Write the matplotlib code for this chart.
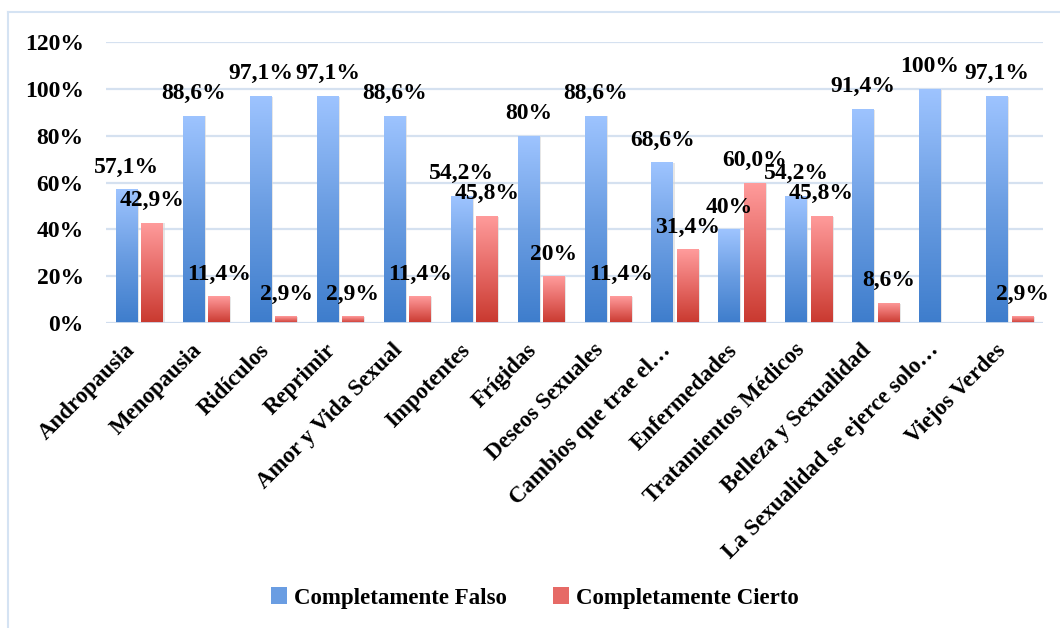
import matplotlib
matplotlib.use("Agg")
import matplotlib.pyplot as plt
import numpy as np
from matplotlib.colors import LinearSegmentedColormap
from matplotlib.patches import Patch
from matplotlib.lines import Line2D
from matplotlib.transforms import ScaledTranslation

categories = ["Andropausia", "Menopausia", "Ridículos", "Reprimir", "Amor y Vida Sexual",
              "Impotentes", "Frígidas", "Deseos Sexuales", "Cambios que trae el…",
              "Enfermedades", "Tratamientos Médicos", "Belleza y Sexualidad",
              "La Sexualidad se ejerce solo…", "Viejos Verdes"]
falso = [57.1, 88.6, 97.1, 97.1, 88.6, 54.2, 80, 88.6, 68.6, 40, 54.2, 91.4, 100, 97.1]
cierto = [42.9, 11.4, 2.9, 2.9, 11.4, 45.8, 20, 11.4, 31.4, 60.0, 45.8, 8.6, 0, 2.9]
falso_labels = ["57,1%", "88,6%", "97,1%", "97,1%", "88,6%", "54,2%", "80%", "88,6%",
                "68,6%", "40%", "54,2%", "91,4%", "100%", "97,1%"]
cierto_labels = ["42,9%", "11,4%", "2,9%", "2,9%", "11,4%", "45,8%", "20%", "11,4%",
                 "31,4%", "60,0%", "45,8%", "8,6%", "", "2,9%"]
yticks = [0, 20, 40, 60, 80, 100, 120]
ytick_labels = ["0%", "20%", "40%", "60%", "80%", "100%", "120%"]
series_names = ["Completamente Falso", "Completamente Cierto"]

plt.rcParams['font.family'] = ['Liberation Serif', 'DejaVu Serif']
plt.rcParams['font.weight'] = 'bold'

fig = plt.figure(figsize=(10.6, 6.28), dpi=100)
W, H = 1060, 628
ax = fig.add_axes([106 / W, 1 - 323 / H, (1043 - 106) / W, (323 - 42) / H])

x = np.arange(len(categories))
bw = 0.32
off = 0.19
blue_cmap = LinearSegmentedColormap.from_list("b", ["#3E7DCC", "#6A9DE2", "#9EC4FF"])
red_cmap = LinearSegmentedColormap.from_list("r", ["#C9392F", "#E66A66", "#FF9C9C"])

grad = np.linspace(0, 1, 256).reshape(-1, 1)

def draw_bars(xs, vals, cmap, labels):
    bars = ax.bar(xs, vals, width=bw, color='none', edgecolor='none', zorder=3)
    for b, lab in zip(bars, labels):
        x0, y0 = b.get_x(), b.get_y()
        w, h = b.get_width(), b.get_height()
        if h <= 0:
            continue
        # subtle shadow
        ax.bar(x0 + w / 2 + 0.025, h, width=w, bottom=-0.4, color='#d6d6d6', alpha=0.6,
               edgecolor='none', zorder=2)
        im = ax.imshow(grad, extent=[x0, x0 + w, y0, y0 + h], origin='lower',
                       cmap=cmap, aspect='auto', zorder=3.5, interpolation='bilinear')
        im.set_clip_path(b)
        ax.annotate(lab, (x0 + w / 2, y0 + h), xytext=(0, 12), textcoords='offset points',
                    ha='center', va='baseline', fontsize=17, fontweight='bold', zorder=6)
    return bars

draw_bars(x - off, falso, blue_cmap, falso_labels)
draw_bars(x + off, cierto, red_cmap, cierto_labels)

ax.set_xlim(-0.5, len(categories) - 0.5)
ax.set_ylim(0, 120)
ax.set_yticks(yticks)
ax.set_yticklabels(ytick_labels, fontsize=17, fontweight='bold')
ax.set_xticks(x)
ax.set_xticklabels(categories, rotation=45, ha='right', va='top', fontsize=16.5,
                   fontweight='bold')
shift = ScaledTranslation(5 / 100, 0, fig.dpi_scale_trans)
for t in ax.get_xticklabels():
    t.set_transform(t.get_transform() + shift)
ax.tick_params(axis='y', length=0, pad=16)
ax.tick_params(axis='x', length=0, pad=12)
ax.yaxis.grid(True, color='#D5E1F0', linewidth=1.6, zorder=0)
ax.set_axisbelow(True)
for s in ax.spines.values():
    s.set_visible(False)
ax.axhline(0, color='#D0DDEE', linewidth=2.0, zorder=4)

# chart border (left and top)
fig.add_artist(Line2D([8 / W, 8 / W], [0, 1 - 12 / H], color='#D5E3F3', linewidth=1.5,
                      transform=fig.transFigure))
fig.add_artist(Line2D([8 / W, 1], [1 - 12 / H, 1 - 12 / H], color='#D5E3F3', linewidth=1.5,
                      transform=fig.transFigure))

handles = [Patch(facecolor='#6A9DE2', edgecolor='none'),
           Patch(facecolor='#E66A66', edgecolor='none')]
fig.legend(handles, series_names, loc='center', bbox_to_anchor=(535 / W, 1 - 598 / H),
           ncol=2, frameon=False, handlelength=0.7, handleheight=0.7,
           handletextpad=0.3, columnspacing=2.0, prop={'weight': 'bold', 'size': 16.5})

fig.savefig("out.png", dpi=100)
